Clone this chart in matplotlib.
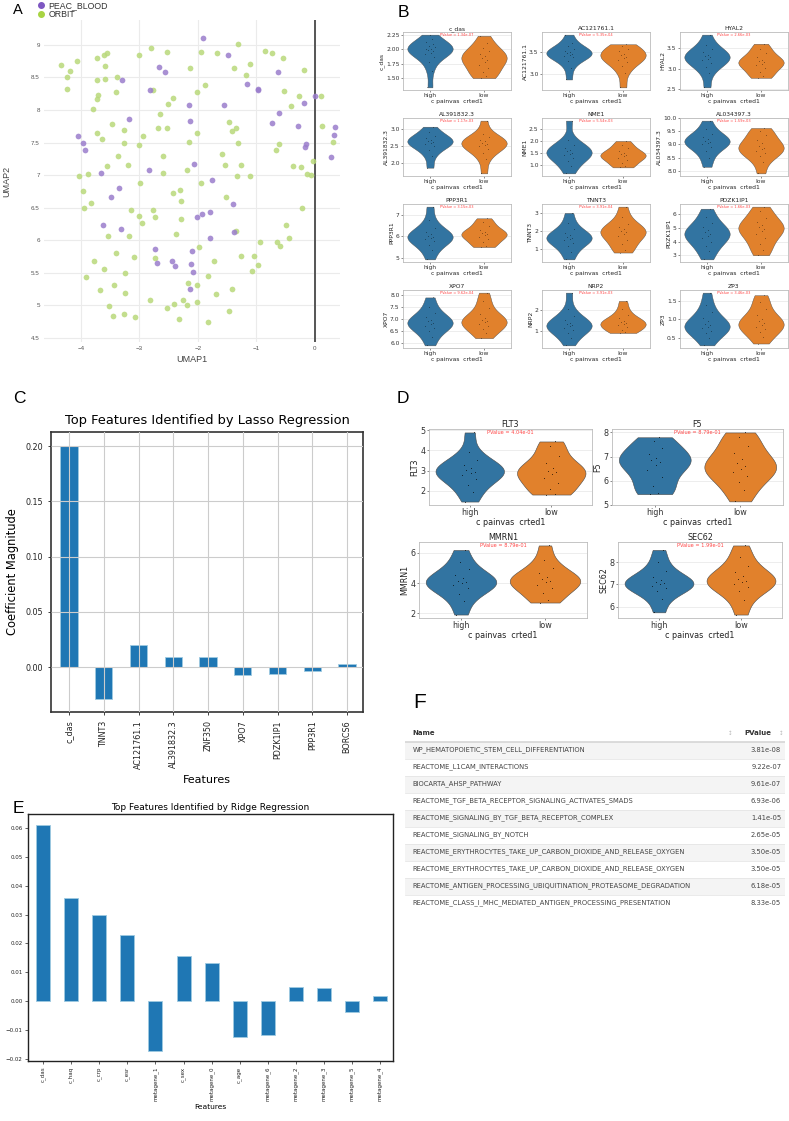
import numpy as np
import matplotlib
matplotlib.use('Agg')
from matplotlib import pyplot as plt
from matplotlib.lines import Line2D

plt.rcParams['font.family'] = ['DejaVu Sans']

W, H = 789, 1121

# ---------------- A: UMAP scatter ----------------
peac_x = [-1.91, -1.49, -2.66, -2.57, -0.63, -3.29, -2.82, -1.16, -0.98, -0.98, 0.00, -2.15,
          -1.55, -0.19, -0.62, -3.18, -2.14, -0.74, -0.28, 0.35, -4.05, 0.32, -3.96, -0.15,
          -0.17, -3.93, 0.27, -2.07, -3.65, -2.84, -1.75, -3.35, -3.48, -1.40, -1.79, -1.93,
          -2.02, -3.62, -3.31, -1.38, -1.79, -2.74, -2.10, -2.70, -2.44, -2.39, -2.11, -2.08, -2.14]
peac_y = [9.10, 8.84, 8.66, 8.58, 8.58, 8.46, 8.31, 8.40, 8.32, 8.31, 8.22, 8.08,
          8.08, 8.10, 7.96, 7.86, 7.83, 7.80, 7.76, 7.74, 7.60, 7.61, 7.49, 7.47,
          7.43, 7.38, 7.28, 7.17, 7.04, 7.08, 6.93, 6.81, 6.67, 6.55, 6.43, 6.40,
          6.36, 6.24, 6.17, 6.12, 6.03, 5.86, 5.83, 5.65, 5.68, 5.61, 5.64, 5.52, 5.26]
orbit_x = [-4.34, -4.24, -4.19, -4.07, -4.23, -3.73, -3.61, -3.55, -3.59, -3.73, -3.58, -3.39,
           -3.70, -3.73, -3.40, -3.79, -3.46, -3.72, -3.63, -3.26, -3.27, -3.00, -2.80, -2.52,
           -2.77, -2.51, -2.43, -2.65, -2.68, -2.52, -2.94, -3.01, -2.13, -1.94, -1.67, -1.87,
           -2.01, -1.32, -1.39, -1.10, -1.18, -0.85, -0.73, -0.55, -0.18, -0.53, -0.41, -0.27,
           0.11, -1.47, -1.41, -1.34, -1.32, -0.62, -0.66, 0.12, 0.31, -2.15, -2.01, -3.37,
           -3.55, -3.19, -3.88, -4.03, -3.97, -3.82, -3.94, -2.99, -2.60, -2.59, -2.19, -1.58,
           -1.54, -1.27, -1.33, -1.10, -0.37, -0.24, -0.03, -0.14, -0.07, -1.94, -2.43, -2.31,
           -2.28, -3.14, -2.76, -3.01, -2.74, -2.95, -2.29, -1.52, -0.22, -1.34, -0.50, -0.45,
           -0.93, -0.64, -0.60, -3.53, -3.18, -2.37, -1.98, -3.40, -3.77, -3.61, -3.09, -2.73,
           -1.73, -1.26, -1.04, -0.97, -1.08, -1.82, -3.24, -3.91, -3.44, -3.67, -3.24, -2.16,
           -2.02, -1.69, -1.42, -2.82, -2.26, -2.40, -2.18, -2.02, -2.53, -3.52, -3.45, -3.27,
           -3.08, -2.33, -1.46, -1.83]
orbit_y = [8.69, 8.51, 8.59, 8.75, 8.32, 8.80, 8.84, 8.87, 8.67, 8.46, 8.47, 8.51,
           8.23, 8.17, 8.27, 8.01, 7.79, 7.65, 7.56, 7.69, 7.49, 8.84, 8.95, 8.89,
           8.31, 8.09, 8.19, 7.94, 7.73, 7.73, 7.60, 7.46, 8.64, 8.89, 8.87, 8.39,
           8.28, 9.01, 8.65, 8.70, 8.54, 8.91, 8.87, 8.80, 8.62, 8.29, 8.06, 8.22,
           8.21, 7.81, 7.68, 7.72, 7.49, 7.47, 7.38, 7.76, 7.51, 7.51, 7.64, 7.30,
           7.14, 7.16, 7.01, 6.98, 6.75, 6.58, 6.50, 6.88, 7.30, 7.04, 7.08, 7.33,
           7.15, 7.16, 6.98, 6.99, 7.14, 7.13, 7.21, 7.01, 7.00, 6.88, 6.73, 6.77,
           6.60, 6.47, 6.47, 6.37, 6.36, 6.26, 6.32, 6.66, 6.49, 6.15, 6.24, 6.04,
           5.98, 5.97, 5.91, 6.07, 6.07, 6.10, 5.89, 5.81, 5.69, 5.56, 5.75, 5.73,
           5.68, 5.76, 5.76, 5.62, 5.53, 5.45, 5.50, 5.43, 5.32, 5.24, 5.19, 5.34,
           5.31, 5.18, 5.26, 5.09, 5.09, 5.02, 5.00, 5.05, 4.96, 4.99, 4.84, 4.87,
           4.82, 4.80, 4.91, 4.74]
umap_xticks = [-4, -3, -2, -1, 0]
umap_yticks = [4.5, 5, 5.5, 6, 6.5, 7, 7.5, 8, 8.5, 9]

# ---------------- B: violin grid ----------------
b_genes = ['c_das', 'AC121761.1', 'HYAL2', 'AL391832.3', 'NME1', 'AL034397.3',
           'PPP3R1', 'TNNT3', 'PDZK1IP1', 'XPO7', 'NRP2', 'ZP3']
b_pvals = ['1.34e-07', '5.35e-04', '2.66e-03', '1.17e-03', '5.54e-03', '1.59e-03',
           '3.15e-03', '3.91e-04', '1.66e-03', '9.62e-04', '3.91e-03', '3.46e-03']
b_yticks = [[1.5, 1.75, 2.0, 2.25], [3.0, 3.5], [2.5, 3.0, 3.5], [2.0, 2.5, 3.0],
            [1.0, 1.5, 2.0, 2.5], [8.0, 8.5, 9.0, 9.5, 10.0], [5, 6, 7], [1, 2, 3],
            [3, 4, 5, 6], [6.0, 6.5, 7.0, 7.5, 8.0], [1, 2], [0.5, 1.0, 1.5]]
b_high = [
    [1.34, 1.62, 1.78, 1.86, 1.91, 1.94, 1.97, 1.99, 2.00, 2.01, 2.03, 2.05, 2.08, 2.12, 2.17, 2.25],
    [2.88, 3.15, 3.30, 3.38, 3.42, 3.44, 3.46, 3.48, 3.50, 3.53, 3.57, 3.63, 3.72, 3.90],
    [2.55, 2.90, 3.05, 3.14, 3.20, 3.24, 3.27, 3.30, 3.34, 3.40, 3.47, 3.58, 3.82],
    [1.85, 2.20, 2.38, 2.48, 2.55, 2.59, 2.62, 2.65, 2.68, 2.73, 2.80, 2.92, 3.07],
    [0.65, 0.95, 1.15, 1.30, 1.40, 1.47, 1.52, 1.57, 1.63, 1.72, 1.85, 2.05, 2.85],
    [8.15, 8.50, 8.75, 8.90, 9.00, 9.06, 9.10, 9.14, 9.20, 9.28, 9.40, 9.58, 9.90],
    [4.92, 5.35, 5.60, 5.78, 5.88, 5.94, 5.98, 6.03, 6.10, 6.22, 6.40, 6.75, 7.40],
    [0.42, 0.85, 1.15, 1.35, 1.48, 1.56, 1.62, 1.68, 1.76, 1.90, 2.10, 2.45, 3.00],
    [2.70, 3.30, 3.70, 4.00, 4.25, 4.42, 4.55, 4.68, 4.85, 5.05, 5.35, 5.80, 6.40],
    [5.90, 6.25, 6.48, 6.62, 6.72, 6.80, 6.85, 6.90, 6.97, 7.08, 7.25, 7.50, 7.90],
    [0.30, 0.65, 0.90, 1.05, 1.15, 1.22, 1.27, 1.32, 1.40, 1.52, 1.70, 2.05, 2.85],
    [0.30, 0.50, 0.62, 0.70, 0.76, 0.80, 0.84, 0.88, 0.95, 1.05, 1.20, 1.40, 1.72],
]
b_low = [
    [1.50, 1.53, 1.60, 1.67, 1.73, 1.78, 1.82, 1.85, 1.88, 1.92, 1.96, 2.02, 2.10, 2.23],
    [2.70, 3.02, 3.18, 3.27, 3.33, 3.37, 3.40, 3.43, 3.47, 3.52, 3.58, 3.64, 3.68],
    [2.78, 2.82, 2.92, 3.02, 3.08, 3.12, 3.15, 3.18, 3.22, 3.28, 3.38, 3.48, 3.60],
    [1.68, 2.10, 2.30, 2.42, 2.49, 2.53, 2.56, 2.59, 2.63, 2.68, 2.75, 2.84, 3.25],
    [0.90, 0.95, 1.10, 1.22, 1.30, 1.36, 1.40, 1.44, 1.50, 1.58, 1.70, 1.85, 2.00],
    [7.90, 8.35, 8.55, 8.68, 8.76, 8.82, 8.88, 8.95, 9.05, 9.18, 9.35, 9.52, 9.62],
    [5.50, 5.55, 5.72, 5.88, 5.98, 6.05, 6.10, 6.15, 6.22, 6.32, 6.48, 6.68, 6.85],
    [0.80, 0.95, 1.25, 1.50, 1.70, 1.85, 1.93, 2.00, 2.08, 2.20, 2.40, 2.75, 3.35],
    [3.00, 3.40, 3.85, 4.25, 4.55, 4.80, 4.95, 5.05, 5.20, 5.40, 5.75, 6.20, 6.55],
    [6.20, 6.40, 6.58, 6.70, 6.80, 6.87, 6.92, 6.97, 7.05, 7.20, 7.45, 7.75, 8.10],
    [0.90, 0.95, 1.05, 1.18, 1.27, 1.33, 1.38, 1.43, 1.50, 1.60, 1.78, 2.05, 2.45],
    [0.35, 0.52, 0.65, 0.74, 0.80, 0.85, 0.90, 0.95, 1.02, 1.12, 1.28, 1.48, 1.65],
]

# ---------------- D: four violins ----------------
d_genes = ['FLT3', 'F5', 'MMRN1', 'SEC62']
d_pvals = ['4.04e-01', '8.79e-01', '8.79e-01', '1.99e-01']
d_yticks = [[2, 3, 4, 5], [5, 6, 7, 8], [2, 4, 6], [6, 7, 8]]
d_high = [
    [1.45, 1.95, 2.30, 2.60, 2.78, 2.88, 2.95, 3.02, 3.12, 3.28, 3.50, 3.90, 4.90],
    [5.45, 5.50, 5.80, 6.15, 6.45, 6.65, 6.78, 6.86, 6.95, 7.10, 7.35, 7.65, 7.80],
    [1.90, 2.80, 3.30, 3.65, 3.85, 3.97, 4.05, 4.15, 4.30, 4.55, 4.90, 5.40, 6.20],
    [5.75, 6.35, 6.70, 6.85, 6.95, 7.00, 7.05, 7.10, 7.20, 7.35, 7.60, 8.00, 8.55],
]
d_low = [
    [1.80, 1.85, 2.10, 2.40, 2.65, 2.82, 2.92, 3.00, 3.12, 3.35, 3.70, 4.20, 4.45],
    [5.15, 5.60, 5.95, 6.20, 6.38, 6.50, 6.60, 6.72, 6.90, 7.15, 7.45, 7.80, 8.00],
    [2.70, 2.90, 3.35, 3.70, 3.90, 4.05, 4.15, 4.25, 4.40, 4.65, 5.00, 5.50, 6.50],
    [5.65, 6.30, 6.70, 6.90, 7.02, 7.10, 7.17, 7.25, 7.38, 7.55, 7.85, 8.25, 8.75],
]

# ---------------- C: lasso ----------------
lasso_features = ['c_das', 'TNNT3', 'AC121761.1', 'AL391832.3', 'ZNF350', 'XPO7',
                  'PDZK1IP1', 'PPP3R1', 'BORCS6']
lasso_coef = [0.200, -0.029, 0.0195, 0.0095, 0.0088, -0.0068, -0.0062, -0.0038, 0.0025]

# ---------------- E: ridge ----------------
ridge_features = ['c_das', 'c_haq', 'c_crp', 'c_esr', 'metagene_1', 'c_sex', 'metagene_0',
                  'c_age', 'metagene_6', 'metagene_2', 'metagene_3', 'metagene_5', 'metagene_4']
ridge_coef = [0.0611, 0.0356, 0.0300, 0.0229, -0.0174, 0.0155, 0.0131,
              -0.0125, -0.0119, 0.0050, 0.0047, -0.0038, 0.0017]

# ---------------- F: pathway table ----------------
path_names = ['WP_HEMATOPOIETIC_STEM_CELL_DIFFERENTIATION',
              'REACTOME_L1CAM_INTERACTIONS',
              'BIOCARTA_AHSP_PATHWAY',
              'REACTOME_TGF_BETA_RECEPTOR_SIGNALING_ACTIVATES_SMADS',
              'REACTOME_SIGNALING_BY_TGF_BETA_RECEPTOR_COMPLEX',
              'REACTOME_SIGNALING_BY_NOTCH',
              'REACTOME_ERYTHROCYTES_TAKE_UP_CARBON_DIOXIDE_AND_RELEASE_OXYGEN',
              'REACTOME_ERYTHROCYTES_TAKE_UP_CARBON_DIOXIDE_AND_RELEASE_OXYGEN',
              'REACTOME_ANTIGEN_PROCESSING_UBIQUITINATION_PROTEASOME_DEGRADATION',
              'REACTOME_CLASS_I_MHC_MEDIATED_ANTIGEN_PROCESSING_PRESENTATION']
path_pvals = ['3.81e-08', '9.22e-07', '9.61e-07', '6.93e-06', '1.41e-05',
              '2.65e-05', '3.50e-05', '3.50e-05', '6.18e-05', '8.33e-05']

fig = plt.figure(figsize=(W / 100, H / 100), dpi=100)


def box(l, t, r, b):
    # axes placed by pixel edges (left, top, right, bottom)
    return fig.add_axes([l / W, 1 - b / H, (r - l) / W, (b - t) / H])


def letter(x, y, s, size=12.5):
    fig.text(x / W, 1 - y / H, s, fontsize=size, family='Liberation Sans',
             va='baseline', ha='left')


# ---- A
ax = box(44, 20, 340, 342)
ax.scatter(orbit_x, orbit_y, s=17, color='#b9d97a', alpha=0.85, linewidths=0, zorder=3)
ax.scatter(peac_x, peac_y, s=17, color='#9a7dcc', alpha=0.85, linewidths=0, zorder=3)
ax.axvline(0, color='#555555', lw=1.4, zorder=2)
ax.set_xlim(-4.63, 0.43)
ax.set_ylim(4.44, 9.38)
ax.set_xticks(umap_xticks)
ax.set_xticklabels([str(v).replace('-', '\u2212') for v in umap_xticks])
ax.set_yticks(umap_yticks)
ax.set_yticklabels([('%g' % v) for v in umap_yticks])
ax.grid(True, color='#ebebeb', lw=0.8)
ax.set_axisbelow(True)
for s in ax.spines.values():
    s.set_visible(False)
ax.tick_params(length=0, labelsize=4.5, labelcolor='#555555', pad=3)
for t in ax.get_xticklabels() + ax.get_yticklabels():
    t.set_family('Liberation Sans')
ax.set_xlabel('UMAP1', fontsize=6.5, color='#444444', family='Liberation Sans', labelpad=3)
ax.set_ylabel('UMAP2', fontsize=6.5, color='#444444', family='Liberation Sans', labelpad=14)
handles = [Line2D([], [], marker='o', ls='', color='#7e57c2', ms=4),
           Line2D([], [], marker='o', ls='', color='#a8d443', ms=4)]
fig.legend(handles, ['PEAC_BLOOD', 'ORBIT'], loc='upper left', bbox_to_anchor=(36 / W, 1.0),
           frameon=False, prop={'family': 'Liberation Sans', 'size': 6.3},
           handletextpad=0.3, labelspacing=0.0, borderaxespad=0.1, borderpad=0.0,
           handlelength=1.0, labelcolor='#333333')
letter(13, 14, 'A', 10.5)

jitter = [-0.06, 0.04, -0.02, 0.08, -0.09, 0.01, 0.06, -0.04, 0.02, -0.07, 0.09, -0.01, 0.05, -0.08, 0.03, 0.0]


def violins(ax, high, low, gene, pval, yticks, fs, pfs, dot, lw):
    parts = ax.violinplot([high, low], positions=[0, 1], widths=0.84, showextrema=False,
                          bw_method=0.55)
    for body, c in zip(parts['bodies'], ['#3274a1', '#e1812c']):
        body.set_facecolor(c)
        body.set_edgecolor('#4a4a4a')
        body.set_linewidth(lw)
        body.set_alpha(1)
    for pos, vals in enumerate([high, low]):
        ax.scatter(pos + np.resize(jitter, len(vals)), vals, s=dot, color='k', alpha=0.55,
                   linewidths=0, zorder=3)
    ax.set_xlim(-0.5, 1.5)
    ax.set_yticks(yticks)
    ax.set_xticks([0, 1])
    ax.set_xticklabels(['high', 'low'])
    ax.grid(axis='y', color='#e6e6e6', lw=0.5)
    ax.set_axisbelow(True)
    for s in ax.spines.values():
        s.set_color('#bbbbbb')
        s.set_linewidth(0.6)
    ax.tick_params(labelsize=fs, length=1.5, width=0.4, pad=1, colors='#333333')
    ax.set_title(gene, fontsize=fs, pad=1.5, color='#222222')
    ax.set_ylabel(gene, fontsize=fs, labelpad=1, color='#222222')
    ax.set_xlabel('c painvas  crted1', fontsize=fs, labelpad=0.5, color='#222222')
    ax.text(0.5, 0.985, 'PValue = ' + pval, transform=ax.transAxes, ha='center', va='top',
            color='#ff4444', fontsize=pfs)


# ---- B
tops = [32, 118, 204, 290]
lefts = [403, 542, 680]
for i, gene in enumerate(b_genes):
    r, c = divmod(i, 3)
    axb = box(lefts[c], tops[r], lefts[c] + 108, tops[r] + 58)
    violins(axb, b_high[i], b_low[i], gene, b_pvals[i], b_yticks[i], 4.3, 2.6, 0.25, 0.3)
letter(398, 17, 'B')

# ---- D
d_boxes = [(429, 429, 592, 505), (612, 429, 783, 505), (419, 542, 587, 618), (618, 542, 782, 618)]
for i, gene in enumerate(d_genes):
    axd = box(*d_boxes[i])
    violins(axd, d_high[i], d_low[i], gene, d_pvals[i], d_yticks[i], 5.8, 3.6, 0.5, 0.4)
letter(397, 403, 'D')

# ---- C
axc = box(51, 432, 363, 712)
xc = np.arange(len(lasso_features))
axc.bar(xc, lasso_coef, width=0.5, color='#1f77b4', edgecolor='#9ecae1', lw=0.6)
axc.set_xlim(-0.52, 8.46)
axc.set_ylim(-0.0407, 0.2127)
axc.set_yticks([0.0, 0.05, 0.10, 0.15, 0.20])
axc.set_xticks(xc)
axc.set_xticklabels(lasso_features, rotation=90)
axc.grid(True, color='#cccccc', lw=0.8)
axc.set_axisbelow(False)
for s in axc.spines.values():
    s.set_color('#333333')
    s.set_linewidth(1.2)
axc.tick_params(labelsize=5.8, length=2.5, width=0.6, colors='#222222')
axc.set_title('Top Features Identified by Lasso Regression', fontsize=9.4, pad=6)
axc.set_ylabel('Coefficient Magnitude', fontsize=8.3)
axc.set_xlabel('Features', fontsize=8.0)
letter(13, 403, 'C')

# ---- E
axe = box(28, 814, 393, 1061)
xe = np.arange(len(ridge_features))
axe.bar(xe, ridge_coef, width=0.5, color='#1f77b4', edgecolor='#9ecae1', lw=0.6)
axe.set_xlim(-0.54, 12.46)
axe.set_ylim(-0.0208, 0.0649)
axe.set_yticks([-0.02, -0.01, 0.0, 0.01, 0.02, 0.03, 0.04, 0.05, 0.06])
axe.set_xticks(xe)
axe.set_xticklabels(ridge_features, rotation=90)
for s in axe.spines.values():
    s.set_color('#222222')
    s.set_linewidth(1.0)
axe.tick_params(labelsize=4.0, length=2, width=0.5, colors='#222222', pad=2)
axe.set_title('Top Features Identified by Ridge Regression', fontsize=6.5, pad=3)
axe.set_xlabel('Features', fontsize=5.4, labelpad=2)
letter(13, 813, 'E')

# ---- F
axf = box(405, 724.5, 785, 911.5)
axf.set_xlim(0, 1)
axf.set_ylim(len(path_names) - 0.5, -1.5)
axf.axis('off')
for i, (name, pv) in enumerate(zip(path_names, path_pvals)):
    if i % 2 == 0:
        axf.axhspan(i - 0.5, i + 0.5, color='#f4f4f4', lw=0)
    axf.axhline(i + 0.5, color='#e2e2e2', lw=0.5)
    axf.text(0.02, i, name, fontsize=4.9, color='#444444', va='center', ha='left')
    axf.text(0.99, i, pv, fontsize=4.9, color='#444444', va='center', ha='right')
axf.axhline(-0.5, color='#d5d5d5', lw=1.2)
axf.text(0.02, -1, 'Name', fontsize=5, fontweight='bold', color='#333333', va='center')
axf.text(0.965, -1, 'PValue', fontsize=5, fontweight='bold', color='#333333', va='center', ha='right')
axf.text(0.855, -1, '\u2195', fontsize=4, color='#bbbbbb', va='center', ha='center')
axf.text(0.99, -1, '\u2195', fontsize=4, color='#bbbbbb', va='center', ha='center')
letter(413, 708, 'F', 15)

fig.savefig('out.png', dpi=100)
